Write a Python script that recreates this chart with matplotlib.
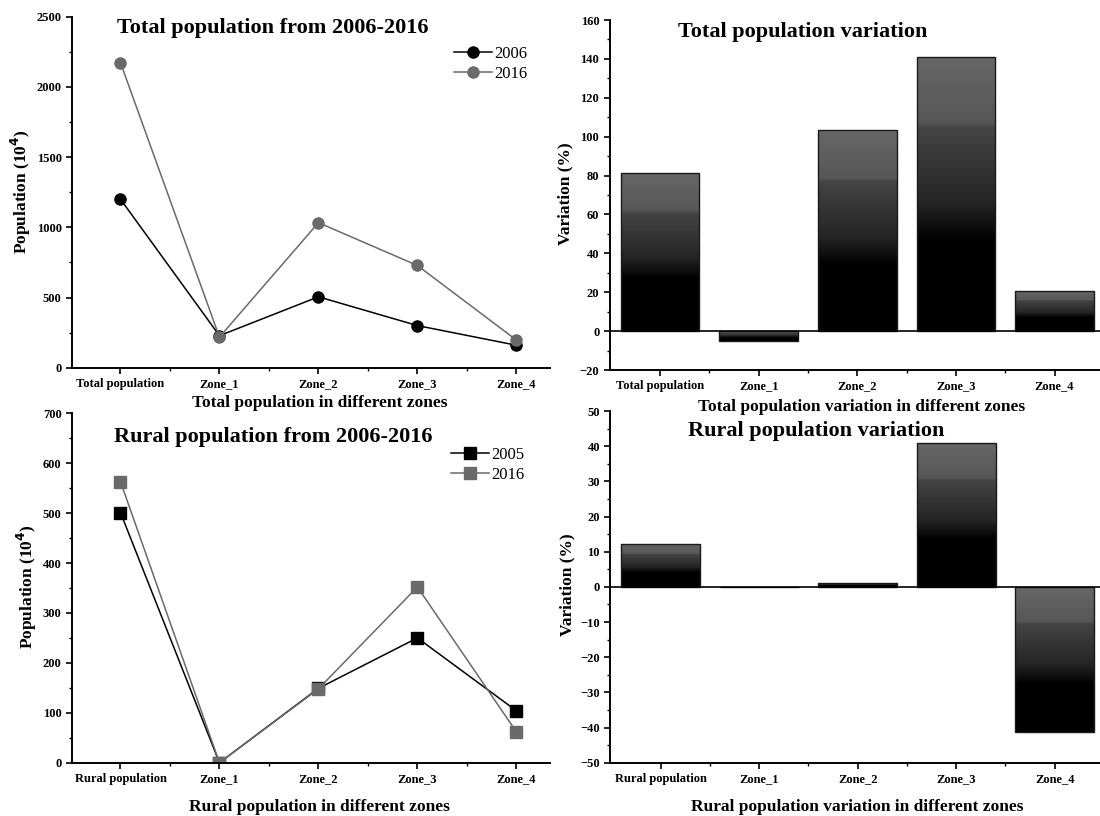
import numpy as np
import matplotlib
matplotlib.use('Agg')
import matplotlib.pyplot as plt
from matplotlib.colors import LinearSegmentedColormap
from matplotlib.ticker import MultipleLocator, FixedLocator

plt.rcParams['font.family'] = ['Liberation Serif', 'DejaVu Serif']

# data
total_cats = ['Total population', 'Zone_1', 'Zone_2', 'Zone_3', 'Zone_4']
rural_cats = ['Rural population', 'Zone_1', 'Zone_2', 'Zone_3', 'Zone_4']
total_2006 = [1200, 228, 505, 300, 160]
total_2016 = [2172, 218, 1033, 728, 197]
rural_2006 = [501, 0, 149, 250, 104]
rural_2016 = [563, 0, 148, 352, 62]
total_var = [81.5, -5.2, 103.4, 141.2, 20.6]
rural_var = [12.3, 0, 1.2, 40.8, -41.3]

gray = '#6a6a6a'
grad = LinearSegmentedColormap.from_list('grad', [(0, '#000000'), (0.33, '#000000'), (0.46, '#242424'),
                                                  (0.74, '#444444'), (0.76, '#575757'), (1, '#676767')])

fig = plt.figure(figsize=(11, 8.16), dpi=100)

def style_axes(ax, cats, xlim):
    x = np.arange(len(cats))
    ax.patch.set_visible(False)
    ax.set_xticks(x)
    ax.set_xticklabels(cats, fontsize=9, fontweight='bold')
    ax.xaxis.set_minor_locator(FixedLocator(x[:-1] + 0.5))
    ax.set_xlim(*xlim)
    ax.spines['top'].set_visible(False)
    ax.spines['right'].set_visible(False)
    ax.spines['left'].set_linewidth(1.4)
    ax.spines['bottom'].set_linewidth(1.4)
    ax.tick_params(which='major', direction='out', length=4, width=1.2, labelsize=9)
    ax.tick_params(which='minor', direction='out', length=2, width=1)
    for lab in ax.get_yticklabels():
        lab.set_fontweight('bold')

def line_panel(rect, cats, v1, v2, ylim, major, marker, title, xlabel, labels, title_pos, xl_pos, yl_pos, leg_anchor):
    ax = fig.add_axes(rect)
    x = np.arange(len(cats))
    ax.plot(x, v1, color='black', marker=marker, markersize=8, lw=1.1, label=labels[0])
    ax.plot(x, v2, color=gray, marker=marker, markersize=8, lw=1.1, label=labels[1])
    ax.set_ylim(*ylim)
    ax.yaxis.set_major_locator(MultipleLocator(major))
    ax.yaxis.set_minor_locator(MultipleLocator(major / 2))
    style_axes(ax, cats, (-0.49, 4.34))
    ax.text(title_pos[0], title_pos[1], title, transform=ax.transAxes, ha='center', va='center',
            fontsize=16, fontweight='bold')
    ax.text(xl_pos[0], xl_pos[1], xlabel, transform=ax.transAxes, ha='center', va='center',
            fontsize=12.5, fontweight='bold')
    ax.text(yl_pos[0], yl_pos[1], 'Population (10$^\\mathbf{4}$)', transform=ax.transAxes, ha='center',
            va='center', rotation=90, fontsize=12.5, fontweight='bold')
    ax.legend(loc='center', bbox_to_anchor=leg_anchor, frameon=False, fontsize=12,
              handlelength=2.3, handletextpad=0.1, labelspacing=0.25, borderpad=0)
    return ax

def bar_panel(rect, cats, vals, ylim, major, title, xlabel, title_pos, xl_pos, yl_pos):
    ax = fig.add_axes(rect)
    x = np.arange(len(cats))
    bars = ax.bar(x, vals, width=0.8, facecolor='none', edgecolor='#1a1a1a', linewidth=1.0, zorder=3)
    g = np.linspace(0, 1, 256).reshape(-1, 1)
    for p in bars.patches:
        y0 = min(p.get_y(), p.get_y() + p.get_height())
        y1 = max(p.get_y(), p.get_y() + p.get_height())
        if y1 - y0 <= 0:
            continue
        im = ax.imshow(g, cmap=grad, origin='lower', aspect='auto', zorder=2,
                       extent=[p.get_x(), p.get_x() + p.get_width(), y0, y1])
        im.set_clip_path(p)
    ax.axhline(0, color='black', lw=1.2, zorder=4)
    ax.set_ylim(*ylim)
    ax.yaxis.set_major_locator(MultipleLocator(major))
    ax.yaxis.set_minor_locator(MultipleLocator(major / 2))
    style_axes(ax, cats, (-0.51, 4.46))
    ax.text(title_pos[0], title_pos[1], title, transform=ax.transAxes, ha='center', va='center',
            fontsize=16, fontweight='bold')
    ax.text(xl_pos[0], xl_pos[1], xlabel, transform=ax.transAxes, ha='center', va='center',
            fontsize=12.5, fontweight='bold')
    ax.text(yl_pos[0], yl_pos[1], 'Variation (%)', transform=ax.transAxes, ha='center',
            va='center', rotation=90, fontsize=12.5, fontweight='bold')
    return ax

# top left
line_panel([72 / 1100, 448.3 / 816, 478 / 1100, 351 / 816], total_cats, total_2006, total_2016,
           (0, 2500), 500, 'o', 'Total population from 2006-2016', 'Total population in different zones',
           ['2006', '2016'], (0.419, 0.968), (0.519, -0.10), (-0.107, 0.502), (0.876, 0.866))

# top right
bar_panel([609.7 / 1100, 446 / 816, 490.3 / 1100, 350 / 816], total_cats, total_var, (-20, 160), 20,
          'Total population variation', 'Total population variation in different zones',
          (0.393, 0.967), (0.514, -0.107), (-0.0895, 0.503))

# bottom left
line_panel([72 / 1100, 53.3 / 816, 478 / 1100, 349.4 / 816], rural_cats, rural_2006, rural_2016,
           (0, 700), 100, 's', 'Rural population from 2006-2016', 'Rural population in different zones',
           ['2005', '2016'], (0.422, 0.933), (0.517, -0.126), (-0.095, 0.504), (0.869, 0.853))

# bottom right
bar_panel([610.4 / 1100, 53.3 / 816, 489.6 / 1100, 351.7 / 816], rural_cats, rural_var, (-50, 50), 10,
          'Rural population variation', 'Rural population variation in different zones',
          (0.421, 0.944), (0.504, -0.125), (-0.087, 0.505))

fig.savefig('out.png', dpi=100)
